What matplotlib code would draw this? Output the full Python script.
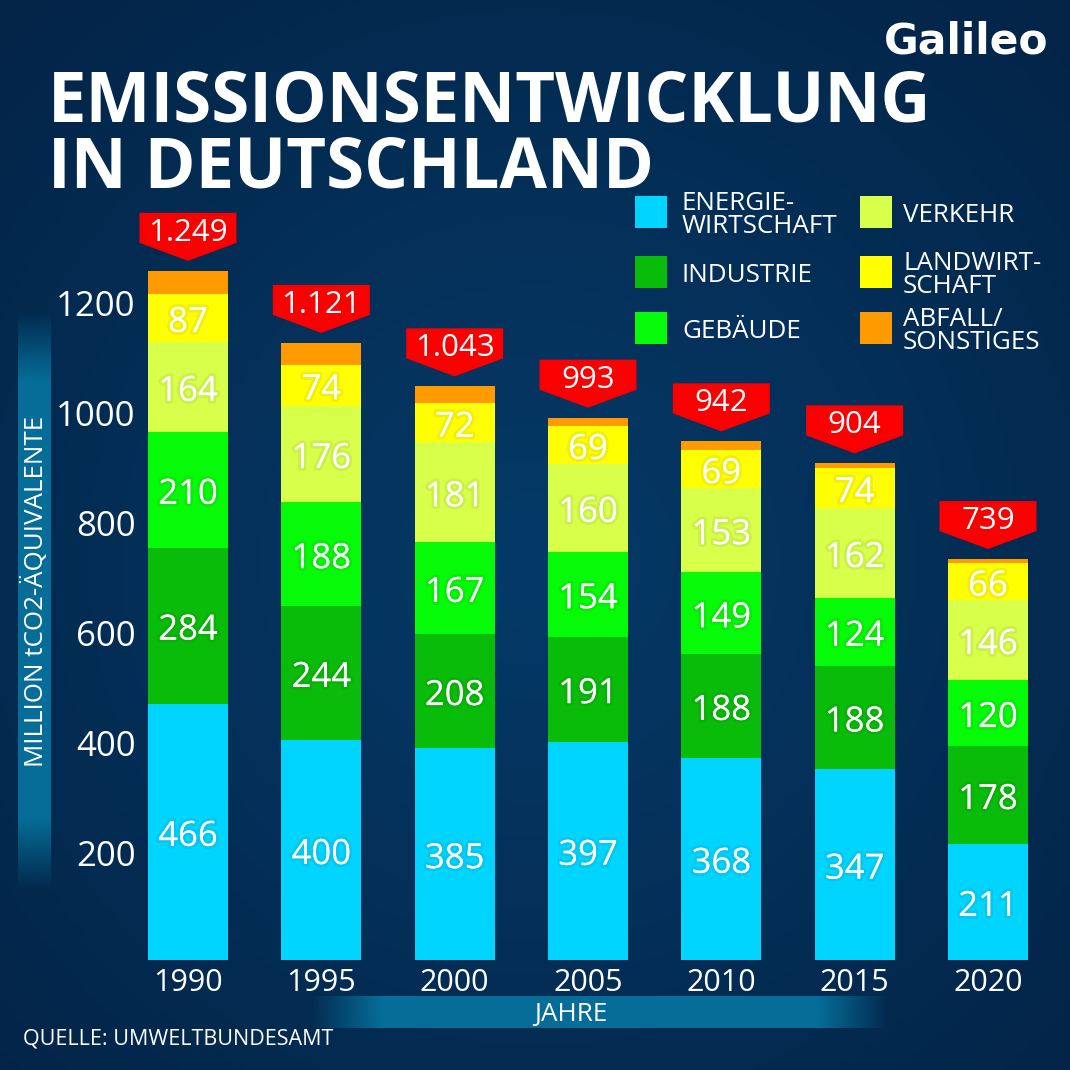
import numpy as np
import matplotlib
matplotlib.use("Agg")
import matplotlib.pyplot as plt
import matplotlib.patheffects as pe
from matplotlib.colors import to_rgb
from matplotlib.patches import Polygon, Rectangle
from matplotlib.transforms import ScaledTranslation

years = ["1990", "1995", "2000", "2005", "2010", "2015", "2020"]
energie = [466, 400, 385, 397, 368, 347, 211]
industrie = [284, 244, 208, 191, 188, 188, 178]
gebaeude = [210, 188, 167, 154, 149, 124, 120]
verkehr = [164, 176, 181, 160, 153, 162, 146]
landwirtschaft = [87, 74, 72, 69, 69, 74, 66]
abfall = [42, 40, 30, 15, 16, 8, 8]
totals = ["1.249", "1.121", "1.043", "993", "942", "904", "739"]
yticks = [200, 400, 600, 800, 1000, 1200]

series = [energie, industrie, gebaeude, verkehr, landwirtschaft, abfall]
colors = ["#00d5ff", "#0abc0a", "#06fb08", "#d8ff4a", "#ffff00", "#ff9a00"]
names = ["ENERGIE-\nWIRTSCHAFT", "INDUSTRIE", "GEBÄUDE", "VERKEHR", "LANDWIRT-\nSCHAFT", "ABFALL/\nSONSTIGES"]

plt.rcParams["font.family"] = ["Open Sans", "DejaVu Sans"]
W = 1070
fig = plt.figure(figsize=(W / 100, W / 100), dpi=100)

# page layer in pixel coordinates
pax = fig.add_axes([0, 0, 1, 1])
pax.set_xlim(0, W)
pax.set_ylim(W, 0)
pax.axis("off")

yy, xx = np.mgrid[0:W:4, 0:W:4]
r = np.clip(np.hypot(xx - 535, yy - 560) / 760, 0, 1)[..., None]
inner, outer = np.array(to_rgb("#053a68")), np.array(to_rgb("#032447"))
pax.imshow(inner * (1 - r) + outer * r, extent=(0, W, W, 0), aspect="auto", zorder=0)

def band(x0, x1, y0, y1, horizontal):
    n = 200
    fade = np.clip(np.minimum(np.linspace(0, 1, n), np.linspace(1, 0, n)) / 0.12, 0, 1)
    img = np.zeros((1, n, 4)) if horizontal else np.zeros((n, 1, 4))
    img[..., :3] = to_rgb("#056d97")
    img[..., 3] = fade.reshape(img.shape[:2])
    pax.imshow(img, extent=(x0, x1, y1, y0), aspect="auto", zorder=1)

band(18, 51, 310, 890, False)
band(310, 890, 996, 1028, True)
pax.set_xlim(0, W)
pax.set_ylim(W, 0)

pax.text(48, 122, "EMISSIONSENTWICKLUNG", color="white", fontsize=49.6, fontweight="bold", va="baseline", zorder=5)
pax.text(48, 187, "IN DEUTSCHLAND", color="white", fontsize=49.6, fontweight="bold", va="baseline", zorder=5)
pax.text(884, 53, "Galileo", color="white", fontsize=30.5, fontweight="bold", family="DejaVu Sans", va="baseline", zorder=5)
pax.text(35, 591, "MILLION tCO2-ÄQUIVALENTE", color="white", fontsize=18.7, rotation=90, ha="center", va="center", zorder=5)
pax.text(571, 1014, "JAHRE", color="white", fontsize=18.8, ha="center", va="center", zorder=5)
pax.text(23, 1039, "QUELLE: UMWELTBUNDESAMT", color="white", fontsize=15.5, ha="left", va="center", zorder=5)

# legend
lx = [635, 635, 635, 860, 860, 860]
ly = [196, 256, 312, 196, 256, 312]
for c, name, x, y in zip(colors, names, lx, ly):
    pax.add_patch(Rectangle((x, y), 32, 32, color=c, lw=0, zorder=5))
    pax.text(x + 47 if x == 635 else x + 43, y + 19, name, color="white", fontsize=18.7, va="center",
             linespacing=0.85, zorder=5)

# chart
ax = fig.add_axes([140 / W, 110 / W, 900 / W, 760 / W], facecolor="none")
ax.set_xlim((140 - 188) / 133.33, (1040 - 188) / 133.33)
ax.set_ylim(0, 760 / 0.55)
x = np.arange(len(years))
bottom = np.zeros(len(years))
glow = [pe.withStroke(linewidth=4, foreground=(0, 0, 0, 0.06))]
down5 = ax.transData + ScaledTranslation(0, -5 / 72 * 72 / 100, fig.dpi_scale_trans)
for k, (vals, c) in enumerate(zip(series, colors)):
    v = np.array(vals, float)
    ax.bar(x, v, bottom=bottom, width=0.6, color=c, lw=0)
    if k < 5:
        for xi, b, h in zip(x, bottom, v):
            ax.text(xi, b + h / 2, f"{int(h)}", color="white", fontsize=25, ha="center", va="center",
                    path_effects=glow, transform=down5)
    bottom += v

for s in ax.spines.values():
    s.set_visible(False)
ax.set_xticks(x, years)
ax.set_yticks(yticks, [str(t) for t in yticks])
ax.tick_params(axis="both", length=0, colors="white")
ax.tick_params(axis="x", labelsize=22, pad=6)
ax.tick_params(axis="y", labelsize=25, pad=3)
for t in ax.get_yticklabels():
    t.set_transform(t.get_transform() + ScaledTranslation(0, -0.03, fig.dpi_scale_trans))

# total badges above each bar
for xi, top, label in zip(x, bottom, totals):
    px, py = ax.transData.transform((xi, top))
    py = W - py
    tip = py - 10
    poly = [(px - 48.5, tip - 48), (px + 48.5, tip - 48), (px + 48.5, tip - 18), (px, tip), (px - 48.5, tip - 18)]
    pax.add_patch(Polygon(poly, closed=True, color="#fb0000", lw=0, zorder=6))
    pax.text(px, tip - 28, label, color="white", fontsize=22.5, ha="center", va="center", zorder=7)

fig.savefig("out.png", dpi=100)
